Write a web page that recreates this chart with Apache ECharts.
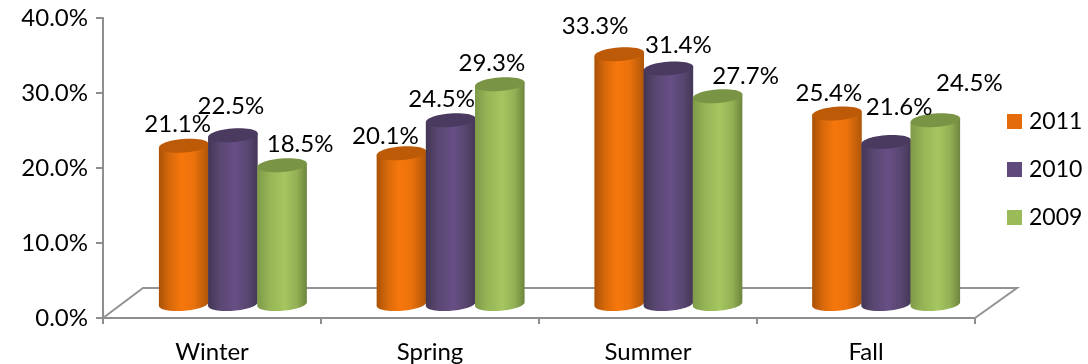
<!DOCTYPE html>
<html><head><meta charset="utf-8">
<style>html,body{margin:0;padding:0;background:#fff}#c{width:1088px;height:364px}</style>
<script src="https://cdn.jsdelivr.net/npm/echarts@6/dist/echarts.min.js"></script></head>
<body><div id="c"></div>
<script>
const categories = ['Winter','Spring','Summer','Fall'];
const years = ['2011','2010','2009'];
const values2011 = [21.1,20.1,33.3,25.4];
const values2010 = [22.5,24.5,31.4,21.6];
const values2009 = [18.5,29.3,27.7,24.5];
const yTicks = [0,10,20,30,40];

// Hand placement of the value labels relative to each bar's top (same in the source chart)
const nudge2011 = [[-6,-21],[-16,-17],[-24,-28],[-8,-20]];
const nudge2010 = [[-2,-29],[-9,-21],[10,-23],[13,-35]];
const nudge2009 = [[18,-21],[-8,-21],[28,-20],[34,-37]];

const font = 'Lato, "Open Sans", sans-serif';
const styles = [
  {legend:'#E46C0A', top:'#BC5A08', stops:[[0,'#A95206'],[0.22,'#D8690B'],[0.45,'#F6770C'],[0.7,'#EC720C'],[1,'#AE5608']]},
  {legend:'#604A7B', top:'#4A3A60', stops:[[0,'#443655'],[0.25,'#5A4772'],[0.55,'#674F85'],[0.8,'#584670'],[1,'#453757']]},
  {legend:'#9BBB59', top:'#7A9446', stops:[[0,'#7E9A48'],[0.25,'#96B556'],[0.55,'#A5C660'],[0.8,'#93B054'],[1,'#6D853E']]}
];
const BAR_FRACTION = 49.3/218.3, RY = 6.8, TILT = -4.5*Math.PI/180;

function rim(cx,cy,rx,t){
  return [cx+rx*Math.cos(t)*Math.cos(TILT)-RY*Math.sin(t)*Math.sin(TILT),
          cy+rx*Math.cos(t)*Math.sin(TILT)+RY*Math.sin(t)*Math.cos(TILT)];
}
function barRender(si){
  return function(params,api){
    const band = api.size([1,0])[0], w = band*BAR_FRACTION;
    const top = api.coord([api.value(0),api.value(1)]);
    const base = api.coord([api.value(0),0]);
    const cx = top[0]+(si-1)*w, rx = w/2+0.3;
    const body=[rim(cx,top[1],rx,Math.PI),rim(cx,top[1],rx,0)];
    for(let k=0;k<=32;k++) body.push(rim(cx,base[1],rx,Math.PI*k/32));
    const cap=[];
    for(let k=0;k<48;k++) cap.push(rim(cx,top[1],rx,2*Math.PI*k/48));
    const s=styles[si];
    return {type:'group',children:[
      {type:'polygon',shape:{points:body},style:{fill:new echarts.graphic.LinearGradient(0,0,1,0,s.stops.map(a=>({offset:a[0],color:a[1]})))}},
      {type:'polygon',shape:{points:cap},style:{fill:s.top}}
    ]};
  };
}
function labelRender(si,nudge){
  return function(params,api){
    const band = api.size([1,0])[0], w = band*BAR_FRACTION;
    const top = api.coord([api.value(0),api.value(1)]);
    const n = nudge[params.dataIndex];
    return {type:'text',x:top[0]+(si-1)*w+n[0],y:top[1]+n[1],
      style:{text:api.value(1).toFixed(1)+'%',font:'24px '+font,fill:'#000',align:'center',verticalAlign:'middle'}};
  };
}
function floorRender(params){
  const c=params.coordSys, b=c.y+c.height, l=c.x, r=c.x+c.width;
  return {type:'polyline',silent:true,
    shape:{points:[[l,b],[l+40,b-30],[r+42,b-30],[r,b]]},
    style:{stroke:'#939393',lineWidth:2,fill:null}};
}
const seriesValues=[values2011,values2010,values2009];
const nudges=[nudge2011,nudge2010,nudge2009];
const series=[{type:'custom',name:'floor',xAxisIndex:0,yAxisIndex:0,data:[[categories[0],0]],encode:{x:0,y:1},renderItem:floorRender,z:1,silent:true,clip:false}];
years.forEach((y,i)=>series.push({type:'custom',name:y,xAxisIndex:1,yAxisIndex:1,
  data:categories.map((c,j)=>[c,seriesValues[i][j]]),encode:{x:0,y:1},
  itemStyle:{color:styles[i].legend},renderItem:barRender(i),z:3+i,clip:false}));
years.forEach((y,i)=>series.push({type:'custom',name:'label'+y,xAxisIndex:1,yAxisIndex:1,
  data:categories.map((c,j)=>[c,seriesValues[i][j]]),encode:{x:0,y:1},
  renderItem:labelRender(i,nudges[i]),z:10,clip:false}));

const gray={lineStyle:{color:'#8E8E8E',width:2}};
const chart=echarts.init(document.getElementById('c'),null,{renderer:'canvas'});
chart.setOption({
  animation:false,backgroundColor:'#fff',
  textStyle:{fontFamily:font},
  legend:{data:years.map(y=>({name:y,icon:'rect',itemStyle:{color:styles[years.indexOf(y)].legend}})),
    orient:'vertical',left:1002,top:105,itemWidth:15,itemHeight:15,itemGap:25,
    selectedMode:false,textStyle:{fontSize:23,color:'#000',fontFamily:font,padding:[0,0,0,2]}},
  grid:[{left:103,right:113,top:18,bottom:46},{left:124,right:93,top:4,bottom:60}],
  xAxis:[
    {type:'category',gridIndex:0,data:categories,axisLine:gray,axisTick:{show:true,length:6,alignWithLabel:false,lineStyle:{color:'#8E8E8E',width:2}},
     axisLabel:{fontSize:24,color:'#000',margin:22,fontFamily:font}},
    {type:'category',gridIndex:1,data:categories,show:false}
  ],
  yAxis:[
    {type:'value',gridIndex:0,min:0,max:40,interval:10,axisLine:{show:true,...gray},axisTick:{show:true,length:7,lineStyle:{color:'#8E8E8E',width:2}},
     splitLine:{show:false},axisLabel:{fontSize:24,color:'#000',margin:15,fontFamily:font,formatter:v=>yTicks.includes(v)?v.toFixed(1)+'%':''}},
    {type:'value',gridIndex:1,min:0,max:40,interval:10,show:false,splitLine:{show:false}}
  ],
  series
});
</script></body></html>
